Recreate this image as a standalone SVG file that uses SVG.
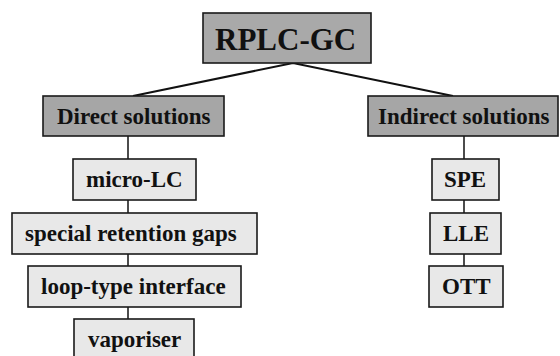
<svg xmlns="http://www.w3.org/2000/svg" width="560" height="356" viewBox="0 0 560 356">
<rect width="560" height="356" fill="#fff"/>
<g id="connectors" stroke="#111" fill="none">
<polyline points="133,96 293,63 453,96" stroke-width="2"/>
<line x1="128" y1="136" x2="128" y2="159" stroke-width="1.5"/>
<line x1="128" y1="200" x2="128" y2="213" stroke-width="1.5"/>
<line x1="128" y1="254" x2="128" y2="266" stroke-width="1.5"/>
<line x1="128" y1="307" x2="128" y2="319" stroke-width="1.5"/>
<line x1="464" y1="136" x2="464" y2="159" stroke-width="1.5"/>
<line x1="464" y1="200" x2="464" y2="213" stroke-width="1.5"/>
<line x1="464" y1="254" x2="464" y2="266" stroke-width="1.5"/>
</g>
<g stroke="#1a1a1a" stroke-width="1.6">
<rect id="b0" fill="#a9a9a9" x="203" y="13" width="168" height="50"/>
<rect id="b1" fill="#a6a6a6" x="43" y="96" width="181" height="40"/>
<rect id="b2" fill="#a6a6a6" x="368" y="96" width="190" height="40"/>
<rect id="b3" fill="#e8e8e8" x="73" y="159" width="123" height="41"/>
<rect id="b4" fill="#e8e8e8" x="12" y="213" width="245" height="41"/>
<rect id="b5" fill="#e8e8e8" x="28" y="266" width="213" height="41"/>
<rect id="b6" fill="#e8e8e8" x="74" y="319" width="120" height="41"/>
<rect id="b7" fill="#e8e8e8" x="432" y="159" width="67" height="41"/>
<rect id="b8" fill="#e8e8e8" x="430" y="213" width="71" height="41"/>
<rect id="b9" fill="#e8e8e8" x="429" y="266" width="74" height="41"/>
</g>
<g font-size="23" font-weight="bold" fill="#111">
<text x="215" y="50" font-family="Liberation Serif" font-size="31">RPLC-GC</text>
<text x="57" y="124" font-family="Liberation Serif">Direct solutions</text>
<text x="378" y="124" font-family="Liberation Serif">Indirect solutions</text>
<text x="86" y="187" font-family="Liberation Serif">micro-LC</text>
<text x="25" y="241" font-family="Liberation Serif">special retention gaps</text>
<text x="41" y="294" font-family="Liberation Serif">loop-type interface</text>
<text x="88" y="347" font-family="Liberation Serif">vaporiser</text>
<text x="444" y="187" font-family="Liberation Serif">SPE</text>
<text x="443" y="241" font-family="Liberation Serif">LLE</text>
<text x="442" y="294" font-family="Liberation Serif">OTT</text>
</g>
</svg>
